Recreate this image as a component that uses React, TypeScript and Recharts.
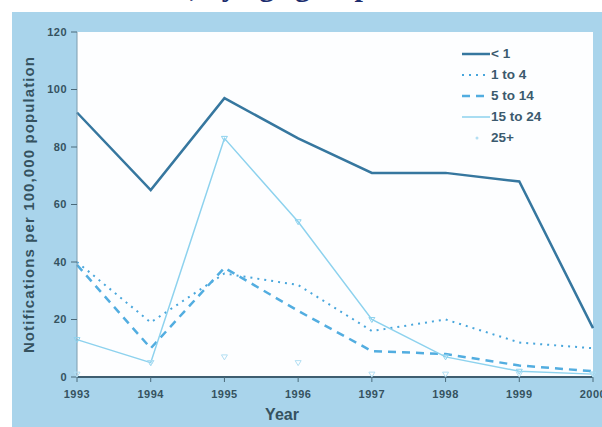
import React from "react";
import { LineChart, Line, XAxis, YAxis, CartesianGrid } from "recharts";

const years = [1993, 1994, 1995, 1996, 1997, 1998, 1999, 2000];
const under1 = [92, 65, 97, 83, 71, 71, 68, 17];
const age1to4 = [40, 19, 36, 32, 16, 20, 12, 10];
const age5to14 = [39, 10, 38, 23, 9, 8, 4, 2];
const age15to24 = [13, 5, 83, 54, 20, 7, 2, 1];
const age25plus = [1, 5, 7, 5, 1, 1, 1, 1];
const yTicks = [0, 20, 40, 60, 80, 100, 120];

const data = years.map((year, i) => ({
    year,
    u1: under1[i],
    a1: age1to4[i],
    a5: age5to14[i],
    a15: age15to24[i],
    a25: age25plus[i],
}));

const AXIS_TEXT = "#35525f";
const FONT = "'Liberation Sans', Arial, sans-serif";
const tickStyle = { fill: AXIS_TEXT, fontSize: 11, fontWeight: "bold", fontFamily: FONT, letterSpacing: 0.5 };

// series look, shared with the legend
const series = [
    { key: "u1", label: "< 1", color: "#36779f", width: 2.5, dash: undefined as string | undefined },
    { key: "a1", label: "1 to 4", color: "#48a6dc", width: 2, dash: "2 5" },
    { key: "a5", label: "5 to 14", color: "#52ade0", width: 2.5, dash: "8 6" },
    { key: "a15", label: "15 to 24", color: "#8dd2ee", width: 1.5, dash: undefined },
    { key: "a25", label: "25+", color: "#b3dff3", width: 0, dash: undefined },
];

function Tri(props: { cx?: number; cy?: number; color: string }) {
    const { cx, cy, color } = props;
    if (cx == null || cy == null) return null;
    return (
        <path
            d={`M${cx - 3},${cy - 2} L${cx + 3},${cy - 2} L${cx},${cy + 3} Z`}
            fill="none"
            stroke={color}
            strokeWidth={1}
        />
    );
}

function LegendBox() {
    return (
        <div style={{ fontFamily: FONT, fontSize: 13.5, fontWeight: "bold", color: "#3b5a6e" }}>
            {series.map((s) => (
                <div key={s.key} style={{ display: "flex", alignItems: "center", height: 21 }}>
                    <svg width={30} height={10} style={{ marginRight: 1 }}>
                        {s.width > 0 ? (
                            <line x1={2} y1={5} x2={30} y2={5} stroke={s.color} strokeWidth={s.width} strokeDasharray={s.dash} />
                        ) : (
                            <circle cx={17} cy={5} r={1.5} fill={s.color} />
                        )}
                    </svg>
                    <span>{s.label}</span>
                </div>
            ))}
        </div>
    );
}

export default function App() {
    return (
        <div style={{ position: "absolute", left: 0, top: 0, width: 602, height: 427, overflow: "hidden", background: "#ffffff" }}>
            <div
                style={{
                    position: "absolute", left: 190, top: -29, whiteSpace: "nowrap",
                    fontFamily: "'Liberation Serif', serif", fontWeight: "bold", fontSize: 30,
                    lineHeight: 1, color: "#1c2d6e",
                }}
            >
                , by age group
            </div>
            <div style={{ position: "absolute", left: 12, top: 12, width: 590, height: 415, background: "#a9d4eb" }} />
            <div style={{ position: "absolute", left: 0, top: 0 }}>
                <LineChart width={620} height={427} data={data} margin={{ top: 32, right: 27, left: 37, bottom: 20 }}>
                    <CartesianGrid stroke="none" fill="#fdfeff" fillOpacity={1} />
                    <XAxis
                        type="number"
                        dataKey="year"
                        domain={[1993, 2000]}
                        ticks={years}
                        height={30}
                        tick={tickStyle}
                        tickSize={5}
                        tickMargin={8}
                        tickLine={{ stroke: "#4a6a7a" }}
                        axisLine={{ stroke: "#3e5e70", strokeWidth: 2 }}
                        label={{
                            value: "Year", position: "bottom", offset: 2, dx: -53,
                            style: { fill: AXIS_TEXT, fontSize: 16, fontWeight: "bold", fontFamily: FONT },
                        }}
                    />
                    <YAxis
                        domain={[0, 120]}
                        ticks={yTicks}
                        width={40}
                        tick={tickStyle}
                        tickSize={6}
                        tickMargin={4}
                        tickLine={{ stroke: "#4a6a7a" }}
                        axisLine={{ stroke: "#7d9cae" }}
                        label={{
                            value: "Notifications per 100,000 population", angle: -90, position: "left", offset: 8,
                            style: {
                                textAnchor: "middle", fill: AXIS_TEXT, fontSize: 15, fontWeight: "bold",
                                fontFamily: FONT, letterSpacing: 1.1,
                            },
                        }}
                    />
                    <Line type="linear" dataKey="u1" stroke={series[0].color} strokeWidth={series[0].width} dot={false} isAnimationActive={false} />
                    <Line type="linear" dataKey="a1" stroke={series[1].color} strokeWidth={series[1].width} strokeDasharray={series[1].dash} dot={false} isAnimationActive={false} />
                    <Line type="linear" dataKey="a5" stroke={series[2].color} strokeWidth={series[2].width} strokeDasharray={series[2].dash} dot={false} isAnimationActive={false} />
                    <Line
                        type="linear"
                        dataKey="a15"
                        stroke={series[3].color}
                        strokeWidth={series[3].width}
                        dot={(p: any) => <Tri key={`t15-${p.index}`} cx={p.cx} cy={p.cy} color={series[3].color} />}
                        isAnimationActive={false}
                    />
                    <Line
                        type="linear"
                        dataKey="a25"
                        stroke="none"
                        dot={(p: any) => <Tri key={`t25-${p.index}`} cx={p.cx} cy={p.cy} color={series[4].color} />}
                        isAnimationActive={false}
                    />
                </LineChart>
            </div>
            <div style={{ position: "absolute", left: 460, top: 43 }}>
                <LegendBox />
            </div>
        </div>
    );
}
